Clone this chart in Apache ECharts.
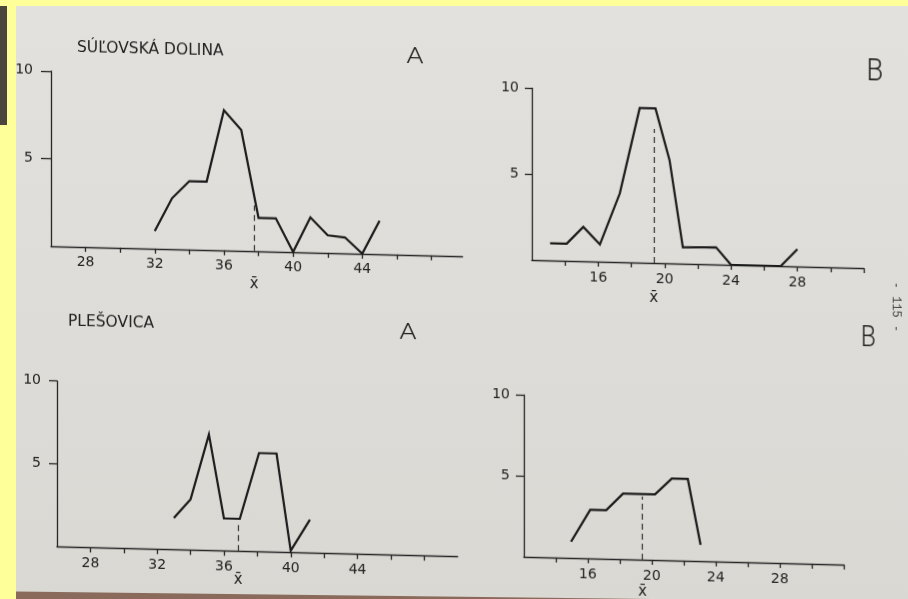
<!DOCTYPE html>
<html><head><meta charset="utf-8">
<script src="https://cdn.jsdelivr.net/npm/echarts@6/dist/echarts.min.js"></script>
<style>
html,body{margin:0;padding:0;width:908px;height:599px;overflow:hidden;background:linear-gradient(#e2e1dd,#d9d8d3);}
#chart{position:absolute;left:0;top:0;width:908px;height:599px;transform:skewY(1.4deg);transform-origin:0 0;}
.band{position:absolute;}
</style></head><body>
<div id="chart"></div>
<div class="band" style="left:16px;top:585px;width:892px;height:14px;background:#8a6b5b;clip-path:polygon(0 6.5px,100% 17px,100% 100%,0 100%)"></div>
<div class="band" style="left:0;top:0;width:908px;height:6px;background:#ffff99"></div>
<div class="band" style="left:0;top:0;width:16px;height:599px;background:#ffff99"></div>
<div class="band" style="left:0;top:6px;width:7px;height:119px;background:#4a463d"></div>
<script>
// ---- text ----
const titleTop = 'SÚĽOVSKÁ DOLINA';
const titleBottom = 'PLEŠOVICA';
const panelLetters = ['A', 'B', 'A', 'B'];
const meanLabel = 'x\u0304';
const pageNumber = '- 115 -';

// ---- tick values / labels ----
const xTicksA = [28, 30, 32, 34, 36, 38, 40, 42, 44, 46, 48];
const xLabelsA = [28, 32, 36, 40, 44];
const xTicksB = [14, 16, 18, 20, 22, 24, 26, 28, 30, 32];
const xLabelsB = [16, 20, 24, 28];
const yTicks = [5, 10];

// ---- data: Súľovská dolina A ----
const sulA_x = [32, 33, 34, 35, 36, 37, 38, 39, 40, 41, 42, 43, 44, 45];
const sulA_y = [1, 2.9, 3.9, 3.9, 8, 6.9, 1.9, 1.9, 0, 2, 1, 0.9, 0, 1.9];
const sulA_mean = [37.75, 2.6];
// ---- data: Súľovská dolina B ----
const sulB_x = [13.1, 14.1, 15.1, 16.1, 17.3, 18.5, 19.45, 20.3, 21.1, 23.1, 24, 27, 28];
const sulB_y = [1, 1, 2, 1, 4, 9, 9, 6, 0.95, 1, 0, 0, 1];
const sulB_mean = [19.35, 7.8];
// ---- data: Plešovica A ----
const pleA_x = [33, 34, 35.1, 36, 36.95, 38.1, 39.15, 40, 41.15];
const pleA_y = [1.9, 3.05, 7, 1.95, 1.95, 5.95, 5.95, 0.1, 2];
const pleA_mean = [36.85, 1.8];
// ---- data: Plešovica B ----
const pleB_x = [14.95, 16.15, 17.15, 18.2, 20.2, 21.25, 22.25, 23.05];
const pleB_y = [1, 3, 3, 4.05, 4.05, 5.05, 5.05, 1];
const pleB_mean = [19.42, 3.9];

// ---- layout ----
const FONT = 'DejaVu Sans';
const INK = '#222';
const grids = [
  {left: 51, top: 69.8, width: 411.7, height: 175, min: 26, max: 49.8, ticks: xTicksA, labels: xLabelsA, yTick: 10, yMargin: 18, xbarDy: 33},
  {left: 532, top: 75.2, width: 332, height: 171.8, min: 12, max: 32, ticks: xTicksB, labels: xLabelsB, yTick: 7, yMargin: 13, xbarDy: 35},
  {left: 57, top: 379.7, width: 400.8, height: 165.6, min: 26, max: 50, ticks: xTicksA, labels: xLabelsA, yTick: 8, yMargin: 16, xbarDy: 29},
  {left: 524, top: 382.1, width: 320, height: 161.8, min: 12, max: 32, ticks: xTicksB, labels: xLabelsB, yTick: 8, yMargin: 14, xbarDy: 32}
];
const seriesData = [[sulA_x, sulA_y, sulA_mean], [sulB_x, sulB_y, sulB_mean], [pleA_x, pleA_y, pleA_mean], [pleB_x, pleB_y, pleB_mean]];

const axisLineStyle = {color: '#262626', width: 1.3};
const chart = echarts.init(document.getElementById('chart'), null, {renderer: 'canvas'});

const option = {
  animation: false,
  backgroundColor: 'transparent',
  grid: grids.map(g => ({left: g.left, top: g.top, width: g.width, height: g.height, outerBoundsMode: 'none', containLabel: false})),
  xAxis: grids.map((g, i) => ({
    type: 'value', gridIndex: i, min: g.min, max: g.max,
    splitLine: {show: false},
    axisLine: {show: true, onZero: false, lineStyle: axisLineStyle},
    axisTick: {show: true, length: 5, customValues: g.ticks, lineStyle: axisLineStyle},
    axisLabel: {customValues: g.labels, margin: 9, fontFamily: FONT, fontSize: 14, color: INK}
  })),
  yAxis: grids.map((g, i) => ({
    type: 'value', gridIndex: i, min: 0, max: 10,
    splitLine: {show: false},
    axisLine: {show: true, onZero: false, lineStyle: axisLineStyle},
    axisTick: {show: true, length: g.yTick, customValues: yTicks, lineStyle: axisLineStyle},
    axisLabel: {customValues: yTicks, margin: g.yMargin, fontFamily: FONT, fontSize: 14, color: INK}
  })),
  series: seriesData.map((s, i) => ({
    type: 'line', xAxisIndex: i, yAxisIndex: i,
    data: s[0].map((x, k) => [x, s[1][k]]),
    symbol: 'none', silent: true,
    lineStyle: {color: '#1b1b1b', width: 2.2, join: 'miter', miterLimit: 6},
    markLine: {
      silent: true, symbol: ['none', 'none'], animation: false,
      label: {show: false},
      lineStyle: {type: [6, 4], color: '#333', width: 1.2},
      data: [[{coord: [s[2][0], 0]}, {coord: [s[2][0], s[2][1]]}]]
    }
  }))
};
chart.setOption(option);

// annotations
const graphic = [
  {type: 'text', x: 77, y: 46, style: {text: titleTop, font: '15.5px "DejaVu Sans"', fill: INK, align: 'left', verticalAlign: 'middle'}},
  {type: 'text', x: 68, y: 320.3, style: {text: titleBottom, font: '15.5px "DejaVu Sans"', fill: INK, align: 'left', verticalAlign: 'middle'}},
  {type: 'text', x: 415, y: 47.5, scaleX: 1.25, style: {text: panelLetters[0], font: '300 22px Roboto', fill: INK, align: 'center', verticalAlign: 'middle'}},
  {type: 'text', x: 875, y: 51, scaleX: 0.85, style: {text: panelLetters[1], font: '300 32px Roboto', fill: INK, align: 'center', verticalAlign: 'middle'}},
  {type: 'text', x: 408, y: 323.5, scaleX: 1.25, style: {text: panelLetters[2], font: '300 22px Roboto', fill: INK, align: 'center', verticalAlign: 'middle'}},
  {type: 'text', x: 868.5, y: 318, scaleX: 0.85, style: {text: panelLetters[3], font: '300 29px Roboto', fill: INK, align: 'center', verticalAlign: 'middle'}},
  {type: 'text', x: 896, y: 285, rotation: -Math.PI / 2, style: {text: pageNumber, font: '12px "Liberation Mono"', fill: '#444', align: 'center', verticalAlign: 'middle'}}
];
seriesData.forEach((s, i) => {
  const p = chart.convertToPixel({gridIndex: i}, [s[2][0], 0]);
  graphic.push({type: 'text', x: p[0], y: p[1] + grids[i].xbarDy, style: {text: meanLabel, font: '15px "DejaVu Sans"', fill: INK, align: 'center', verticalAlign: 'middle'}});
});
chart.setOption({graphic: graphic});
</script>
</body></html>
